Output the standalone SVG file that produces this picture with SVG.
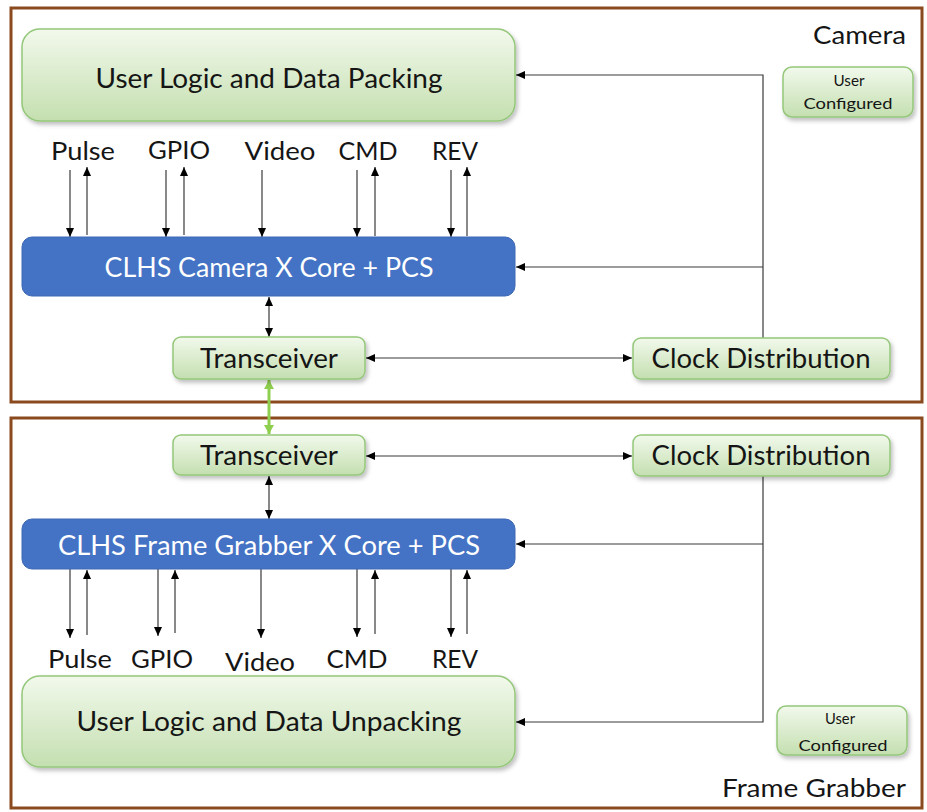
<svg xmlns="http://www.w3.org/2000/svg" width="927" height="812" viewBox="0 0 927 812">
<style>
.frame{fill:#fff;stroke:#8a4a1e;stroke-width:3}
.gbox{fill:url(#gg);stroke:#94c77a;stroke-width:1.5;filter:url(#sh)}
.bbox{fill:#4472c4;stroke:#3e68b5;stroke-width:1}
.t{font-family:Lato,"Liberation Sans",sans-serif;fill:#151515;text-anchor:middle}
.w{fill:#fff}
.c{fill:none;stroke:#3a3a3a;stroke-width:1.2}
.one{marker-end:url(#ah)}
.two{marker-start:url(#ah);marker-end:url(#ah)}
.green{fill:none;stroke:#8fcf4f;stroke-width:3;marker-start:url(#ahg);marker-end:url(#ahg)}
</style>
<defs>
<linearGradient id="gg" x1="0" y1="0" x2="0" y2="1">
<stop offset="0" stop-color="#f2f9ec"/>
<stop offset="1" stop-color="#c4dfb0"/>
</linearGradient>
<filter id="sh" x="-10%" y="-10%" width="125%" height="140%">
<feDropShadow dx="2" dy="3" stdDeviation="2" flood-color="#000" flood-opacity="0.25"/>
</filter>
<marker id="ah" markerUnits="userSpaceOnUse" markerWidth="10" markerHeight="8" refX="9" refY="4" orient="auto-start-reverse">
<path d="M0,0 L9,4 L0,8 z" fill="#000"/>
</marker>
<marker id="ahg" markerUnits="userSpaceOnUse" markerWidth="10" markerHeight="10" refX="9" refY="5" orient="auto-start-reverse">
<path d="M0,0 L9,5 L0,10 z" fill="#8fcf4f"/>
</marker>
</defs>

<g id="camera-frame">
<rect class="frame" x="11" y="8" width="911" height="394"/>
<text class="t" x="906" y="44" font-size="25" style="text-anchor:end" textLength="93" lengthAdjust="spacingAndGlyphs">Camera</text>
</g>
<g id="fg-frame">
<rect class="frame" x="11" y="418" width="911" height="390"/>
<text class="t" x="906" y="797" font-size="25" style="text-anchor:end" textLength="184" lengthAdjust="spacingAndGlyphs">Frame Grabber</text>
</g>

<g id="connectors">
<path class="c one" d="M70,170 V237"/>
<path class="c one" d="M87,235 V167"/>
<path class="c one" d="M166,170 V237"/>
<path class="c one" d="M184,235 V167"/>
<path class="c one" d="M262,170 V237"/>
<path class="c one" d="M357,170 V237"/>
<path class="c one" d="M375,236 V167"/>
<path class="c one" d="M451,170 V237"/>
<path class="c one" d="M467,236 V167"/>
<path class="c one" d="M763,338 V75 H516"/>
<path class="c one" d="M763,267 H516"/>
<path class="c two" d="M269,297 V337"/>
<path class="c two" d="M366,358 H632"/>
<path class="green" d="M269,380 V434"/>
<path class="c two" d="M366,456 H632"/>
<path class="c two" d="M269,476 V519"/>
<path class="c one" d="M763,476 V722 H516"/>
<path class="c one" d="M763,544 H516"/>
<path class="c one" d="M70,569 V638"/>
<path class="c one" d="M87,635 V570"/>
<path class="c one" d="M158,569 V636"/>
<path class="c one" d="M175,633 V570"/>
<path class="c one" d="M261,569 V638"/>
<path class="c one" d="M357,569 V637"/>
<path class="c one" d="M375,634 V570"/>
<path class="c one" d="M451,569 V637"/>
<path class="c one" d="M467,634 V570"/>
</g>

<g id="user-logic-packing">
<rect class="gbox" x="22" y="29" width="493" height="92" rx="18"/>
<text class="t" x="269" y="88" font-size="26" textLength="347" lengthAdjust="spacingAndGlyphs">User Logic and Data Packing</text>
</g>
<g id="user-configured-camera">
<rect class="gbox" x="783" y="67" width="130" height="50" rx="9"/>
<text class="t" x="849" y="86" font-size="16" textLength="31" lengthAdjust="spacingAndGlyphs">User</text>
<text class="t" x="848" y="109" font-size="16" textLength="89" lengthAdjust="spacingAndGlyphs">Configured</text>
</g>
<g id="labels-camera">
<text class="t" x="83" y="160" font-size="25" textLength="64" lengthAdjust="spacingAndGlyphs">Pulse</text>
<text class="t" x="179" y="159" font-size="25" textLength="62" lengthAdjust="spacingAndGlyphs">GPIO</text>
<text class="t" x="280" y="160" font-size="25" textLength="71" lengthAdjust="spacingAndGlyphs">Video</text>
<text class="t" x="368" y="160" font-size="25" textLength="59" lengthAdjust="spacingAndGlyphs">CMD</text>
<text class="t" x="455" y="160" font-size="25" textLength="46" lengthAdjust="spacingAndGlyphs">REV</text>
</g>
<g id="clhs-camera">
<rect class="bbox" x="22" y="237" width="493" height="59" rx="10"/>
<text class="t w" x="269" y="277" font-size="26" textLength="329" lengthAdjust="spacingAndGlyphs">CLHS Camera X Core + PCS</text>
</g>
<g id="transceiver-camera">
<rect class="gbox" x="173" y="337" width="192" height="42" rx="8"/>
<text class="t" x="269" y="368" font-size="27" textLength="138" lengthAdjust="spacingAndGlyphs">Transceiver</text>
</g>
<g id="clock-camera">
<rect class="gbox" x="633" y="338" width="257" height="41" rx="8"/>
<text class="t" x="761" y="368" font-size="27" textLength="219" lengthAdjust="spacingAndGlyphs">Clock Distribution</text>
</g>

<g id="transceiver-fg">
<rect class="gbox" x="173" y="435" width="192" height="40" rx="8"/>
<text class="t" x="269" y="465" font-size="27" textLength="138" lengthAdjust="spacingAndGlyphs">Transceiver</text>
</g>
<g id="clock-fg">
<rect class="gbox" x="633" y="435" width="257" height="41" rx="8"/>
<text class="t" x="761" y="465" font-size="27" textLength="219" lengthAdjust="spacingAndGlyphs">Clock Distribution</text>
</g>
<g id="clhs-fg">
<rect class="bbox" x="22" y="519" width="493" height="50" rx="10"/>
<text class="t w" x="269" y="555" font-size="26" textLength="422" lengthAdjust="spacingAndGlyphs">CLHS Frame Grabber X Core + PCS</text>
</g>
<g id="labels-fg">
<text class="t" x="80" y="668" font-size="25" textLength="64" lengthAdjust="spacingAndGlyphs">Pulse</text>
<text class="t" x="162" y="668" font-size="25" textLength="62" lengthAdjust="spacingAndGlyphs">GPIO</text>
<text class="t" x="260" y="671" font-size="25" textLength="70" lengthAdjust="spacingAndGlyphs">Video</text>
<text class="t" x="357" y="668" font-size="25" textLength="61" lengthAdjust="spacingAndGlyphs">CMD</text>
<text class="t" x="455" y="668" font-size="25" textLength="46" lengthAdjust="spacingAndGlyphs">REV</text>
</g>
<g id="user-logic-unpacking">
<rect class="gbox" x="22" y="676" width="493" height="91" rx="18"/>
<text class="t" x="269" y="731" font-size="26" textLength="385" lengthAdjust="spacingAndGlyphs">User Logic and Data Unpacking</text>
</g>
<g id="user-configured-fg">
<rect class="gbox" x="777" y="706" width="130" height="49" rx="9"/>
<text class="t" x="840" y="724" font-size="16" textLength="30" lengthAdjust="spacingAndGlyphs">User</text>
<text class="t" x="843" y="751" font-size="16" textLength="89" lengthAdjust="spacingAndGlyphs">Configured</text>
</g>
</svg>
